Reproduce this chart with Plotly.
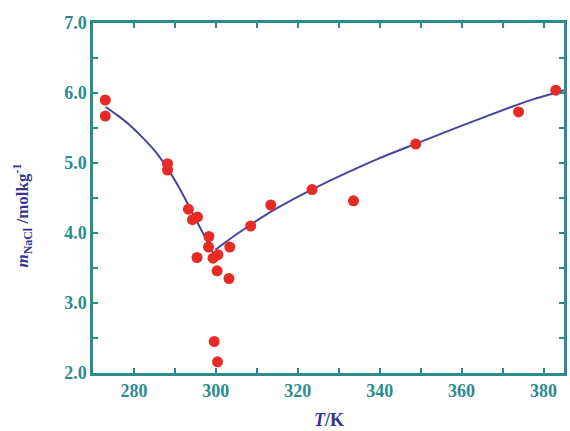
import plotly.graph_objects as go

# Experimental points
T_exp = [273.0, 273.0, 288.2, 288.2, 293.3, 294.3, 295.5, 295.4, 298.3, 298.2,
         299.3, 300.5, 300.3, 303.2, 303.4, 308.5, 313.4, 299.6, 300.4,
         323.5, 333.6, 348.8, 373.9, 383.0]
m_exp = [5.90, 5.67, 4.99, 4.90, 4.34, 4.19, 4.23, 3.65, 3.95, 3.80,
         3.64, 3.69, 3.46, 3.35, 3.80, 4.10, 4.40, 2.45, 2.16,
         4.62, 4.46, 5.27, 5.73, 6.04]

# Fitted curve, left branch
T_left = [273.1, 276.0, 279.0, 282.0, 285.0, 288.1, 291.0, 294.0, 297.0, 300.3]
m_left = [5.80, 5.68, 5.54, 5.37, 5.18, 4.93, 4.65, 4.32, 3.98, 3.60]

# Fitted curve, right branch
T_right = [299.9, 303.1, 308.0, 314.5, 323.4, 332.3, 339.6, 348.6, 359.9, 372.1, 378.0, 383.4, 385.0]
m_right = [3.76, 3.90, 4.10, 4.34, 4.62, 4.87, 5.06, 5.27, 5.53, 5.80, 5.92, 6.01, 6.04]

x_ticks = [280, 300, 320, 340, 360, 380]
y_ticks = [2.0, 3.0, 4.0, 5.0, 6.0, 7.0]
y_labels = ["2.0", "3.0", "4.0", "5.0", "6.0", "7.0"]

teal = "#2b8c8c"
navy = "#35358f"
line_col = "#45459c"
red = "#e82a24"

fig = go.Figure()
fig.add_trace(go.Scatter(x=T_left, y=m_left, mode="lines",
                         line=dict(color=line_col, width=2, shape="spline", smoothing=0.6),
                         hoverinfo="skip"))
fig.add_trace(go.Scatter(x=T_right, y=m_right, mode="lines",
                         line=dict(color=line_col, width=2, shape="spline", smoothing=0.6),
                         hoverinfo="skip"))
fig.add_trace(go.Scatter(x=T_exp, y=m_exp, mode="markers",
                         marker=dict(color=red, size=11, line=dict(width=0))))

tickfont = dict(family="Liberation Serif", size=18, color=teal)
fig.update_layout(
    width=570, height=431,
    margin=dict(l=93, r=3, t=23, b=58),
    paper_bgcolor="white", plot_bgcolor="white",
    showlegend=False,
    font=dict(family="Liberation Serif"),
    xaxis=dict(
        range=[270, 385], tickvals=x_ticks, ticktext=[f"<b>{v}</b>" for v in x_ticks],
        ticks="inside", ticklen=5, tickwidth=2, tickcolor=teal,
        minor=dict(dtick=10, ticks="inside", ticklen=5, tickwidth=2, tickcolor=teal),
        showline=True, linecolor=teal, linewidth=2.5, mirror="ticks",
        showgrid=False, zeroline=False, tickfont=tickfont,
    ),
    yaxis=dict(
        range=[2.0, 7.0], tickvals=y_ticks, ticktext=[f"<b>{t}</b>" for t in y_labels],
        ticks="inside", ticklen=5, tickwidth=2, tickcolor=teal,
        minor=dict(dtick=0.5, ticks="inside", ticklen=5, tickwidth=2, tickcolor=teal),
        showline=True, linecolor=teal, linewidth=2.5, mirror="ticks",
        showgrid=False, zeroline=False, tickfont=tickfont,
    ),
    annotations=[
        dict(text="<b><i>T</i>/K</b>", xref="paper", yref="paper", x=0.5, y=-0.134,
             xanchor="center", yanchor="middle", showarrow=False,
             font=dict(family="Liberation Serif", size=18, color=navy)),
        dict(text="<b><i>m</i><sub>NaCl</sub> /molkg<sup>-1</sup></b>", xref="paper", yref="paper",
             x=-0.15, y=0.451, xanchor="center", yanchor="middle", textangle=-90, showarrow=False,
             font=dict(family="Liberation Serif", size=17, color=navy)),
    ],
)

fig.write_html("out.html")
